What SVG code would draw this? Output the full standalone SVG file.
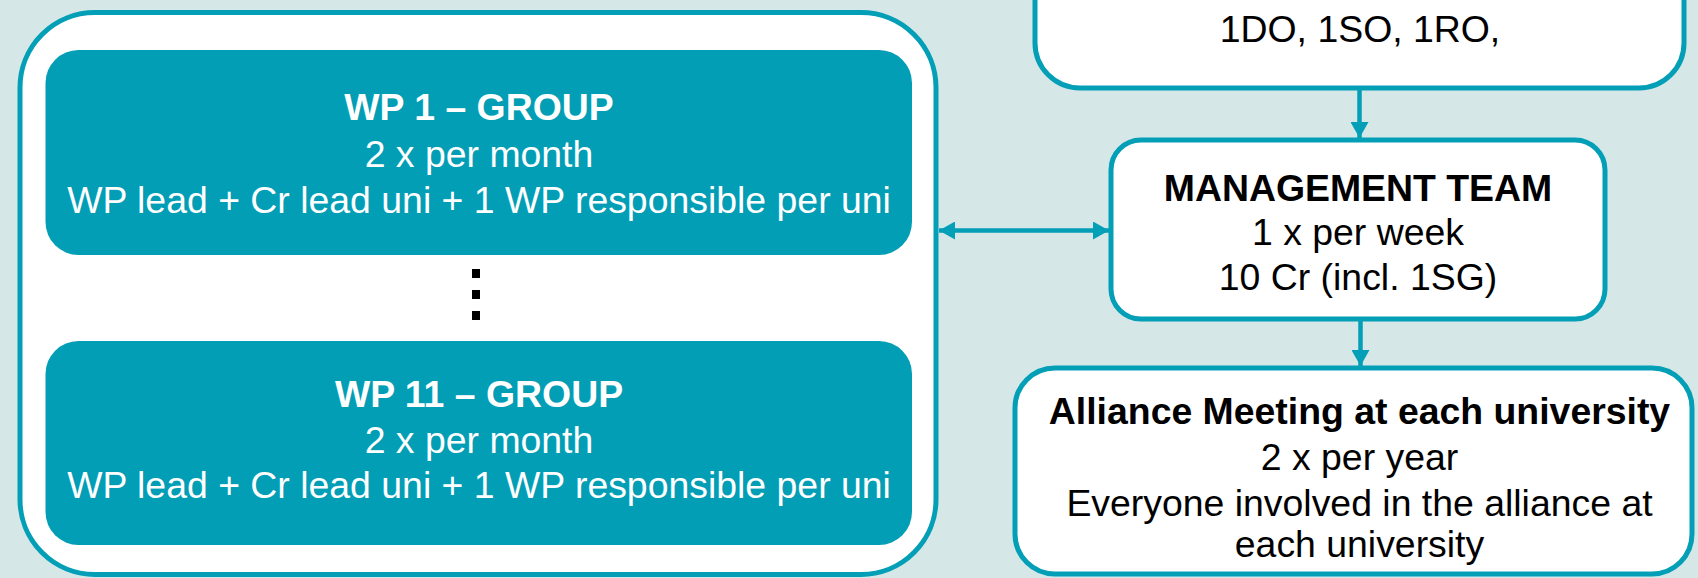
<svg xmlns="http://www.w3.org/2000/svg" width="1698" height="578" viewBox="0 0 1698 578">
<defs>
<style>
.box{fill:#ffffff;stroke:#029FB6;stroke-width:5}
.wp{fill:#029EB5;stroke:none}
.t{font-family:"Liberation Sans",Arial,sans-serif;font-size:37.4px;text-anchor:middle}
.b{font-weight:bold}
.w{fill:#ffffff}
.k{fill:#000000}
.con{stroke:#029FB6;stroke-width:4.5;fill:none}
</style>
<marker id="ah" viewBox="0 0 16 18" refX="16" refY="9" markerWidth="16" markerHeight="18" markerUnits="userSpaceOnUse" orient="auto-start-reverse">
<path d="M0,0 L16,9 L0,18 Z" fill="#029FB6"/>
</marker>
</defs>
<rect width="1698" height="578" fill="#D6E7E8"/>
<g id="steering">
<rect class="box" x="1035" y="-60" width="649" height="148" rx="45"/>
<text class="t k" x="1360" y="42">1DO, 1SO, 1RO,</text>
</g>
<g id="wp-container">
<rect class="box" x="20" y="12.5" width="916" height="562" rx="75"/>
</g>
<g id="wp1">
<rect class="wp" x="45.5" y="50" width="866.5" height="205" rx="33"/>
<text class="t w b" x="479" y="120">WP 1 – GROUP</text>
<text class="t w" x="479" y="167">2 x per month</text>
<text class="t w" x="479" y="213">WP lead + Cr lead uni + 1 WP responsible per uni</text>
</g>
<g id="ellipsis" fill="#000000">
<rect x="472" y="269" width="8" height="9"/>
<rect x="472" y="290" width="8" height="9"/>
<rect x="472" y="311" width="8" height="9"/>
</g>
<g id="wp11">
<rect class="wp" x="45.5" y="341" width="866.5" height="204" rx="33"/>
<text class="t w b" x="479" y="407">WP 11 – GROUP</text>
<text class="t w" x="479" y="453">2 x per month</text>
<text class="t w" x="479" y="498">WP lead + Cr lead uni + 1 WP responsible per uni</text>
</g>
<g id="management">
<rect class="box" x="1111" y="140" width="494" height="179" rx="30"/>
<text class="t k b" x="1358" y="201">MANAGEMENT TEAM</text>
<text class="t k" x="1358" y="245">1 x per week</text>
<text class="t k" x="1358" y="290">10 Cr (incl. 1SG)</text>
</g>
<g id="alliance">
<rect class="box" x="1015" y="368" width="677" height="206" rx="40"/>
<text class="t k b" x="1359.5" y="424">Alliance Meeting at each university</text>
<text class="t k" x="1359.5" y="470">2 x per year</text>
<text class="t k" x="1359.5" y="516">Everyone involved in the alliance at</text>
<text class="t k" x="1359.5" y="557">each university</text>
</g>
<g id="connectors">
<line class="con" x1="939" y1="230.5" x2="1109" y2="230.5" marker-start="url(#ah)" marker-end="url(#ah)"/>
<line class="con" x1="1359.5" y1="90" x2="1359.5" y2="138" marker-end="url(#ah)"/>
<line class="con" x1="1360.5" y1="321" x2="1360.5" y2="366" marker-end="url(#ah)"/>
</g>
</svg>
